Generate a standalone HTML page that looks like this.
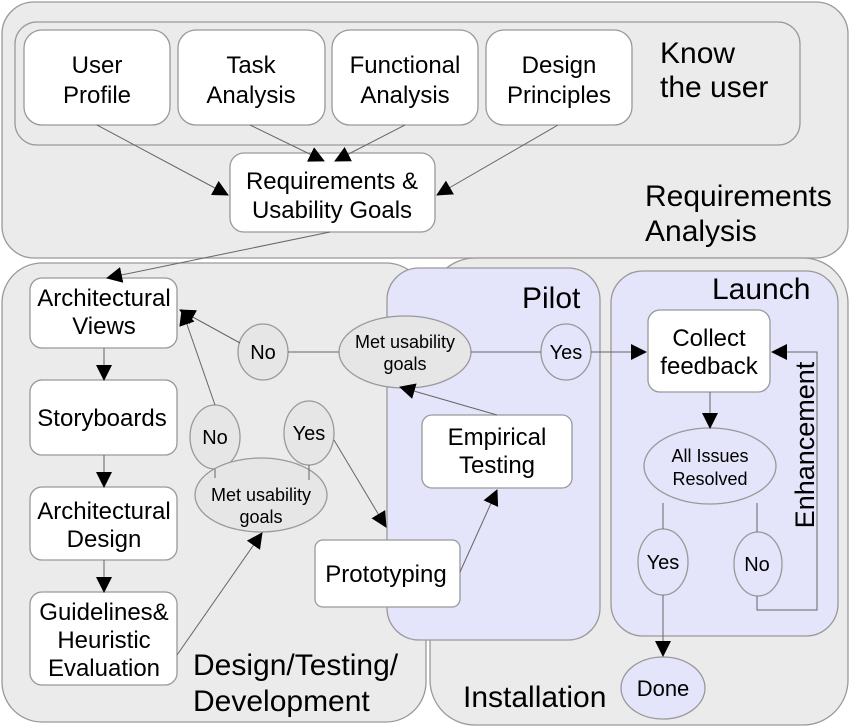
<!DOCTYPE html>
<html><head><meta charset="utf-8"><style>
html,body{margin:0;padding:0;background:#fff}
svg{display:block}
text{font-family:"Liberation Sans",sans-serif;fill:#000}
</style></head><body>
<svg width="850" height="727" viewBox="0 0 850 727" xmlns="http://www.w3.org/2000/svg">
<defs>
<marker id="a" markerWidth="16" markerHeight="16" refX="15" refY="8" orient="auto" markerUnits="userSpaceOnUse"><path d="M0,0 L16,8 L0,16 z" fill="#000"/></marker>
</defs>
<g stroke="#999" stroke-width="1.3">
<rect x="2" y="2" width="846" height="256" rx="32" fill="#ebebeb"/>
<rect x="15" y="22" width="785" height="123" rx="22" fill="#ebebeb"/>
<rect x="2" y="263" width="424" height="459" rx="40" fill="#ebebeb"/>
<rect x="430" y="258" width="418" height="467" rx="45" fill="#ebebeb"/>
<rect x="387" y="268" width="213" height="372" rx="32" fill="#e4e4fa"/>
<rect x="611" y="271" width="227" height="365" rx="32" fill="#e4e4fa"/>
</g>
<g stroke="#999" stroke-width="1.3" fill="#fff">
<rect x="24" y="30" width="146" height="95" rx="18"/>
<rect x="178" y="30" width="147" height="95" rx="18"/>
<rect x="332" y="30" width="146" height="95" rx="18"/>
<rect x="486" y="30" width="146" height="95" rx="18"/>
<rect x="230" y="153" width="205" height="79" rx="14"/>
<rect x="30" y="278" width="147" height="70" rx="12"/>
<rect x="30" y="380" width="147" height="75" rx="12"/>
<rect x="30" y="487" width="147" height="73" rx="12"/>
<rect x="30" y="592" width="147" height="93" rx="12"/>
<rect x="648" y="310" width="122" height="82" rx="12"/>
<rect x="422" y="415" width="150" height="73" rx="10"/>
<rect x="315" y="540" width="145" height="67" rx="8"/>
</g>
<g stroke="#999" stroke-width="1.3" fill="#e6e6e6">
<ellipse cx="263" cy="352" rx="25" ry="28"/>
<ellipse cx="405" cy="352" rx="66" ry="36"/>
<ellipse cx="215" cy="437" rx="25" ry="32"/>
<ellipse cx="309" cy="433" rx="25" ry="32"/>
<ellipse cx="261" cy="495" rx="66" ry="37"/>
</g>
<g stroke="#999" stroke-width="1.3" fill="#e4e4fa">
<ellipse cx="566" cy="352" rx="25" ry="28"/>
<ellipse cx="710" cy="466" rx="66" ry="38"/>
<ellipse cx="663" cy="562" rx="25" ry="33"/>
<ellipse cx="758" cy="564" rx="24" ry="32"/>
<ellipse cx="663" cy="688" rx="42" ry="31"/>
</g>
<g stroke="#666" stroke-width="1" fill="none">
<line x1="97" y1="125" x2="228" y2="195" marker-end="url(#a)"/>
<line x1="250" y1="125" x2="324" y2="161" marker-end="url(#a)"/>
<line x1="405" y1="125" x2="335" y2="161" marker-end="url(#a)"/>
<line x1="558" y1="125" x2="437" y2="195" marker-end="url(#a)"/>
<line x1="330" y1="232" x2="107" y2="278" marker-end="url(#a)"/>
<line x1="104" y1="348" x2="104" y2="380" marker-end="url(#a)"/>
<line x1="104" y1="455" x2="104" y2="487" marker-end="url(#a)"/>
<line x1="104" y1="560" x2="104" y2="592" marker-end="url(#a)"/>
<line x1="288" y1="352" x2="339" y2="352"/>
<line x1="471" y1="352" x2="541" y2="352"/>
<line x1="591" y1="352" x2="646" y2="352" marker-end="url(#a)"/>
<line x1="240" y1="343" x2="180" y2="310" marker-end="url(#a)"/>
<line x1="215" y1="405" x2="182" y2="310" marker-end="url(#a)"/>
<line x1="215" y1="469" x2="215" y2="478"/>
<line x1="309" y1="465" x2="309" y2="480"/>
<line x1="334" y1="440" x2="386" y2="527" marker-end="url(#a)"/>
<line x1="177" y1="655" x2="262" y2="533" marker-end="url(#a)"/>
<line x1="497" y1="415" x2="400" y2="387" marker-end="url(#a)"/>
<line x1="460" y1="572" x2="497" y2="490" marker-end="url(#a)"/>
<line x1="710" y1="392" x2="710" y2="428" marker-end="url(#a)"/>
<line x1="663" y1="503" x2="663" y2="529"/>
<line x1="663" y1="595" x2="663" y2="656" marker-end="url(#a)"/>
<line x1="757" y1="503" x2="757" y2="532"/>
<polyline points="757,596 757,610 817,610 817,352 772,352" marker-end="url(#a)"/>
</g>
<g font-size="24" text-anchor="middle">
<text x="97" y="73">User</text><text x="97" y="103">Profile</text>
<text x="251" y="73">Task</text><text x="251" y="103">Analysis</text>
<text x="405" y="73">Functional</text><text x="405" y="103">Analysis</text>
<text x="559" y="73">Design</text><text x="559" y="103">Principles</text>
<text x="332" y="189">Requirements &amp;</text><text x="332" y="218">Usability Goals</text>
<text x="104" y="306">Architectural</text><text x="104" y="334">Views</text>
<text x="102" y="426">Storyboards</text>
<text x="104" y="519">Architectural</text><text x="104" y="547">Design</text>
<text x="104" y="620">Guidelines&amp;</text><text x="104" y="648">Heuristic</text><text x="104" y="676">Evaluation</text>
<text x="709" y="346">Collect</text><text x="709" y="374">feedback</text>
<text x="497" y="445">Empirical</text><text x="497" y="473">Testing</text>
<text x="386" y="582">Prototyping</text>
</g>
<g font-size="20" text-anchor="middle">
<text x="263" y="359">No</text>
<text x="566" y="359">Yes</text>
<text x="215" y="444">No</text>
<text x="309" y="440">Yes</text>
<text x="663" y="569">Yes</text>
<text x="757" y="571">No</text>
<text x="663" y="696" font-size="22">Done</text>
<text x="405" y="348" font-size="18">Met usability</text><text x="405" y="370" font-size="18">goals</text>
<text x="261" y="501" font-size="18">Met usability</text><text x="261" y="523" font-size="18">goals</text>
<text x="710" y="462" font-size="18">All Issues</text><text x="710" y="485" font-size="18">Resolved</text>
</g>
<g font-size="30">
<text x="660" y="63">Know</text><text x="660" y="97">the user</text>
<text x="645" y="206">Requirements</text><text x="645" y="241">Analysis</text>
<text x="522" y="308">Pilot</text>
<text x="712" y="299">Launch</text>
<text x="193" y="675">Design/Testing/</text><text x="193" y="711">Development</text>
<text x="463" y="707">Installation</text>
<text transform="translate(814,445) rotate(-90)" text-anchor="middle" font-size="27">Enhancement</text>
</g>
</svg>
</body></html>
